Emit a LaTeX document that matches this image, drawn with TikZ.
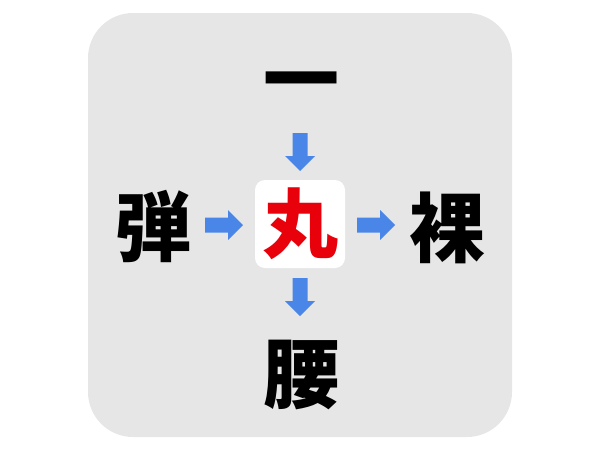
\documentclass[tikz,border=0pt]{standalone}
\usepackage{fontspec}
\newfontfamily\cjk{Noto Sans CJK JP}
\definecolor{panelgray}{HTML}{E6E6E6}
\definecolor{arrowblue}{HTML}{4A86E8}
\definecolor{kanjired}{HTML}{E8000B}
\tikzset{
  kanji/.style={inner sep=0pt, font=\cjk\bfseries\fontsize{76}{76}\selectfont, text=black},
  pics/blockarrow/.style={code={
    \fill[arrowblue] (0,-7.5) -- (23,-7.5) -- (23,-15) -- (38,0) -- (23,15) -- (23,7.5) -- (0,7.5) -- cycle;}}
}
\begin{document}
\begin{tikzpicture}[x=1pt,y=-1pt]
\useasboundingbox (0,0) rectangle (600,450);
\fill[panelgray, rounded corners=45pt] (88,13) rectangle (512,437);
\fill[white, rounded corners=10pt] (255,180) rectangle (345,268);
\node[kanji] (top) at (301,90) {一};
\node[kanji] (left) at (153,227) {弾};
\node[kanji] (right) at (447,228) {裸};
\node[kanji] (bottom) at (301,375) {腰};
\node[kanji, text=kanjired] (center) at (300,224) {丸};
\pic (atop) at (300,133) [rotate=-90] {blockarrow};
\pic (aleft) at (205,225) {blockarrow};
\pic (aright) at (357,225) {blockarrow};
\pic (abottom) at (300,278) [rotate=-90] {blockarrow};
\end{tikzpicture}
\end{document}
